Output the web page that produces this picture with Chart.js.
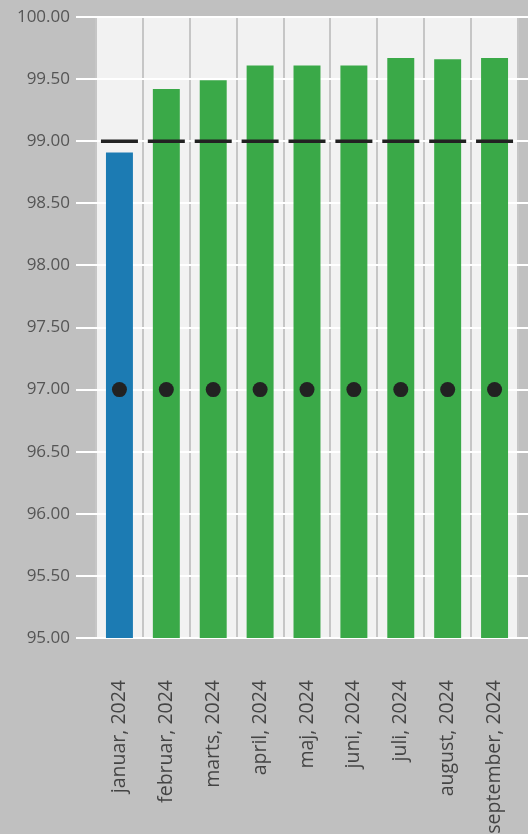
<!DOCTYPE html>
<html>
<head>
<meta charset="utf-8">
<script src="https://cdn.jsdelivr.net/npm/chart.js@4/dist/chart.umd.min.js"></script>
<style>
  html, body { margin:0; padding:0; background:#c0c0c0; overflow:hidden; }
  #wrap { width:528px; height:834px; position:relative; }
</style>
</head>
<body>
<div id="wrap"><canvas id="chart"></canvas></div>
<script>
// ===== data =====
const months = ['januar, 2024','februar, 2024','marts, 2024','april, 2024','maj, 2024','juni, 2024','juli, 2024','august, 2024','september, 2024'];
const actual = [98.91, 99.42, 99.49, 99.61, 99.61, 99.61, 99.67, 99.66, 99.67];
const target = [99, 99, 99, 99, 99, 99, 99, 99, 99];
const baseline = [97, 97, 97, 97, 97, 97, 97, 97, 97];
const yMin = 95, yMax = 100, yStep = 0.5;

const blue = '#1c7bb3', green = '#3aa948';
const barColors = actual.map((v, i) => v < target[i] ? blue : green);

// light plot background behind the bars
const plotBg = {
  id: 'plotBg',
  beforeDraw(chart) {
    const {ctx, chartArea:a} = chart;
    ctx.save();
    ctx.fillStyle = '#f2f2f2';
    ctx.fillRect(a.left, a.top, a.right - a.left, a.bottom - a.top);
    ctx.restore();
  }
};

// drop the auto padding chart.js adds for overhanging labels
const noPad = s => { s.paddingLeft = 0; s.paddingRight = 0; s.paddingTop = 0; s.paddingBottom = 0; };

const font = 'Open Sans';

new Chart(document.getElementById('chart').getContext('2d'), {
  data: {
    labels: months,
    datasets: [
      { type:'line', data: baseline, showLine:false, order:0,
        pointStyle:'circle', pointRadius:7.5, pointBackgroundColor:'#222', pointBorderWidth:0, pointHoverRadius:7.5 },
      { type:'line', data: target, showLine:false, order:1,
        pointStyle:'line', pointRadius:18.5, pointBorderColor:'#222', pointBorderWidth:3.5, pointHoverRadius:18.5 },
      { type:'bar', data: actual, order:3, backgroundColor: barColors,
        borderWidth:0, categoryPercentage:1, barPercentage:0.575 }
    ]
  },
  options: {
    responsive:true, maintainAspectRatio:false, animation:false,
    layout: { autoPadding:false, padding: { top:17, left:0, right:0, bottom:0 } },
    plugins: { legend:{display:false}, tooltip:{enabled:false} },
    scales: {
      x: {
        offset:true,
        grid: { color:'#c6c6c6', lineWidth:2, offset:true, drawTicks:false },
        border: { display:false },
        ticks: { color:'#444', font:{family:font, size:19.5}, minRotation:90, maxRotation:90, padding:42, autoSkip:false },
        afterFit: s => { s.height = 196; noPad(s); }
      },
      y: {
        min:yMin, max:yMax,
        grid: { color:'#ffffff', lineWidth:2, tickLength:20, tickColor:'#ffffff' },
        border: { display:false },
        ticks: { stepSize:yStep, color:'#555', font:{family:font, size:17}, padding:6,
          callback: v => Number(v).toFixed(2) },
        afterFit: s => { s.width = 96; noPad(s); }
      },
      y2: {
        position:'right', min:yMin, max:yMax,
        grid: { drawOnChartArea:false, color:'#ffffff', lineWidth:2, tickLength:10, tickColor:'#ffffff' },
        border: { display:false },
        ticks: { stepSize:yStep, display:false },
        afterFit: s => { s.width = 10; noPad(s); }
      }
    }
  },
  plugins: [plotBg]
});
</script>
</body>
</html>
